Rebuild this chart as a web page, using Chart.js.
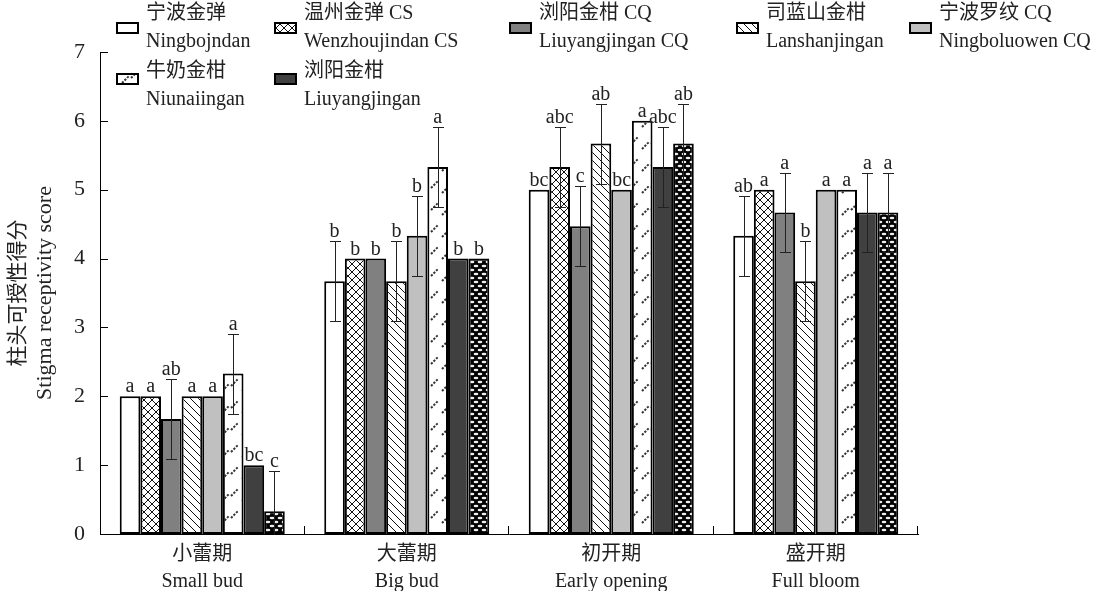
<!DOCTYPE html>
<html>
<head>
<meta charset="utf-8">
<script src="https://cdn.jsdelivr.net/npm/chart.js@4.4.1/dist/chart.umd.min.js"></script>
<style>
  html, body { margin: 0; padding: 0; background: #fff; }
  #wrap { width: 1106px; height: 591px; }
</style>
</head>
<body>
<div id="wrap"><canvas id="stigmaChart" width="1106" height="591"></canvas></div>
<script>
/* ── Stigma receptivity score by flowering stage ── */

const SERIF = "'Liberation Serif', 'Noto Sans CJK SC', serif";

// categories
const stageZh = ['小蕾期', '大蕾期', '初开期', '盛开期'];
const stageEn = ['Small bud', 'Big bud', 'Early opening', 'Full bloom'];

// series names (last bar has no legend entry in the figure)
const cultivarZh = ['宁波金弹', '温州金弹 CS', '浏阳金柑 CQ', '司蓝山金柑', '宁波罗纹 CQ', '牛奶金柑', '浏阳金柑', ''];
const cultivarEn = ['Ningbojndan', 'Wenzhoujindan CS', 'Liuyangjingan CQ', 'Lanshanjingan', 'Ningboluowen CQ', 'Niunaiingan', 'Liuyangjingan', ''];

// mean scores per cultivar, one value per stage
const scoreNingbo     = [2, 3.67, 5, 4.33];
const scoreWenzhou    = [2, 4, 5.33, 5];
const scoreLiuyangCQ  = [1.67, 4, 4.47, 4.67];
const scoreLanshan    = [2, 3.67, 5.67, 3.67];
const scoreLuowen     = [2, 4.33, 5, 5];
const scoreNiunai     = [2.33, 5.33, 6, 5];
const scoreLiuyang    = [1, 4, 5.33, 4.67];
const scoreEighth     = [0.33, 4, 5.67, 4.67];

// standard errors
const errNingbo    = [0, 0.58, 0, 0.58];
const errWenzhou   = [0, 0, 0.58, 0];
const errLiuyangCQ = [0.58, 0, 0.58, 0.58];
const errLanshan   = [0, 0.58, 0.58, 0.58];
const errLuowen    = [0, 0.58, 0, 0];
const errNiunai    = [0.58, 0.58, 0, 0];
const errLiuyang   = [0, 0, 0.58, 0.58];
const errEighth    = [0.58, 0, 0.58, 0.58];

// significance letters
const sigNingbo    = ['a', 'b', 'bc', 'ab'];
const sigWenzhou   = ['a', 'b', 'abc', 'a'];
const sigLiuyangCQ = ['ab', 'b', 'c', 'a'];
const sigLanshan   = ['a', 'b', 'ab', 'b'];
const sigLuowen    = ['a', 'b', 'bc', 'a'];
const sigNiunai    = ['a', 'a', 'a', 'a'];
const sigLiuyang   = ['bc', 'b', 'abc', 'a'];
const sigEighth    = ['c', 'b', 'ab', 'a'];

const yTicks = [0, 1, 2, 3, 4, 5, 6, 7];

/* ── fill patterns ── */
function tile(w, h, draw) {
  const c = document.createElement('canvas');
  c.width = w; c.height = h;
  const g = c.getContext('2d');
  draw(g, w, h);
  return g.createPattern(c, 'repeat');
}

const PAT_CROSS = tile(8, 8, (g, w, h) => {
  g.fillStyle = '#fff'; g.fillRect(0, 0, w, h);
  g.strokeStyle = '#111'; g.lineWidth = 1;
  g.beginPath();
  g.moveTo(-1, -1); g.lineTo(w + 1, h + 1);
  g.moveTo(-1, h + 1); g.lineTo(w + 1, -1);
  g.stroke();
});

const PAT_BACK = tile(8, 8, (g, w, h) => {
  g.fillStyle = '#fff'; g.fillRect(0, 0, w, h);
  g.strokeStyle = '#111'; g.lineWidth = 1;
  g.beginPath();
  g.moveTo(-1, -1); g.lineTo(w + 1, h + 1);
  g.moveTo(-1, h - 1); g.lineTo(1, h + 1);
  g.moveTo(w - 1, -1); g.lineTo(w + 1, 1);
  g.stroke();
});

const PAT_DASH = tile(20, 22, (g, w, h) => {
  g.fillStyle = '#fff'; g.fillRect(0, 0, w, h);
  g.strokeStyle = '#333'; g.lineWidth = 2;
  g.setLineDash([2.2, 1.4]);
  g.beginPath();
  g.moveTo(2, 17); g.lineTo(9, 10);
  g.moveTo(11, 12); g.lineTo(18, 5);
  g.stroke();
});

const PAT_DOTS = tile(8, 8, (g, w, h) => {
  g.fillStyle = '#000'; g.fillRect(0, 0, w, h);
  g.fillStyle = '#eee';
  [[4, 2], [0, 6], [8, 6]].forEach(([cx, cy]) => {
    g.beginPath(); g.ellipse(cx, cy, 2.4, 1.2, 0, 0, Math.PI * 2); g.fill();
  });
});

const seriesScores = [scoreNingbo, scoreWenzhou, scoreLiuyangCQ, scoreLanshan, scoreLuowen, scoreNiunai, scoreLiuyang, scoreEighth];
const seriesErrs = [errNingbo, errWenzhou, errLiuyangCQ, errLanshan, errLuowen, errNiunai, errLiuyang, errEighth];
const seriesSigs = [sigNingbo, sigWenzhou, sigLiuyangCQ, sigLanshan, sigLuowen, sigNiunai, sigLiuyang, sigEighth];
const seriesFill = ['#ffffff', PAT_CROSS, '#808080', PAT_BACK, '#c0c0c0', PAT_DASH, '#404040', PAT_DOTS];

// legend slots: series index, swatch x, row
const LEGEND_SLOTS = [
  { i: 0, x: 117, row: 0 }, { i: 1, x: 275, row: 0 }, { i: 2, x: 510, row: 0 },
  { i: 3, x: 737, row: 0 }, { i: 4, x: 910, row: 0 },
  { i: 5, x: 117, row: 1 }, { i: 6, x: 275, row: 1 },
];

const decorPlugin = {
  id: 'decor',
  afterDatasetsDraw(chart) {
    const { ctx, scales: { y }, chartArea } = chart;
    ctx.save();

    // error bars
    ctx.strokeStyle = '#222';
    ctx.lineWidth = 1;
    seriesErrs.forEach((errs, di) => {
      const meta = chart.getDatasetMeta(di);
      errs.forEach((e, j) => {
        if (!e) return;
        const v = seriesScores[di][j];
        const cx = Math.round(meta.data[j].x) + 0.5;
        const top = Math.round(y.getPixelForValue(v + e)) + 0.5;
        const lo = Math.max(0, v - e);
        const bot = Math.round(y.getPixelForValue(lo)) + 0.5;
        ctx.beginPath();
        ctx.moveTo(cx, top); ctx.lineTo(cx, bot);
        ctx.moveTo(cx - 5.5, top); ctx.lineTo(cx + 5.5, top);
        if (lo > 0) { ctx.moveTo(cx - 5.5, bot); ctx.lineTo(cx + 5.5, bot); }
        ctx.stroke();
      });
    });

    // significance letters
    ctx.fillStyle = '#222';
    ctx.font = `20px ${SERIF}`;
    ctx.textAlign = 'center';
    ctx.textBaseline = 'alphabetic';
    seriesSigs.forEach((sigs, di) => {
      const meta = chart.getDatasetMeta(di);
      sigs.forEach((s, j) => {
        const topVal = seriesScores[di][j] + seriesErrs[di][j];
        ctx.fillText(s, meta.data[j].x, y.getPixelForValue(topVal) - 4);
      });
    });

    // inward tick marks
    ctx.strokeStyle = '#000';
    ctx.beginPath();
    yTicks.forEach(t => {
      const py = Math.round(y.getPixelForValue(t)) + 0.5;
      ctx.moveTo(chartArea.left, py); ctx.lineTo(chartArea.left + 8, py);
    });
    const gw = (chartArea.right - chartArea.left) / stageZh.length;
    for (let k = 1; k <= stageZh.length; k++) {
      const px = Math.round(chartArea.left + k * gw) - 0.5;
      ctx.moveTo(px, chartArea.bottom); ctx.lineTo(px, chartArea.bottom - 8);
    }
    ctx.stroke();
    ctx.restore();
  },
  afterDraw(chart) {
    const { ctx, chartArea } = chart;
    ctx.save();
    ctx.fillStyle = '#222';

    // y axis title, two lines
    const cy = (chartArea.top + chartArea.bottom) / 2;
    ctx.translate(18, cy);
    ctx.rotate(-Math.PI / 2);
    ctx.textAlign = 'center';
    ctx.textBaseline = 'middle';
    ctx.font = `21px ${SERIF}`;
    ctx.fillText('柱头可授性得分', 0, 0);
    ctx.font = `22px ${SERIF}`;
    ctx.fillText('Stigma receptivity score', 0, 27);
    ctx.setTransform(1, 0, 0, 1, 0, 0);

    // legend
    LEGEND_SLOTS.forEach(({ i, x, row }) => {
      const base = row * 58;
      const sy = row ? 74 : 23;
      ctx.fillStyle = seriesFill[i];
      ctx.fillRect(x, sy, 21, 10);
      ctx.strokeStyle = '#000';
      ctx.lineWidth = 2;
      ctx.strokeRect(x, sy, 21, 10);
      ctx.fillStyle = '#222';
      ctx.textAlign = 'left';
      ctx.textBaseline = 'middle';
      ctx.font = `20px ${SERIF}`;
      ctx.fillText(cultivarZh[i], x + 29, base + 14);
      ctx.textBaseline = 'alphabetic';
      ctx.fillText(cultivarEn[i], x + 29, base + 47);
    });
    ctx.restore();
  },
};

new Chart(document.getElementById('stigmaChart'), {
  type: 'bar',
  data: {
    labels: stageZh.map((z, k) => [z, stageEn[k]]),
    datasets: seriesScores.map((vals, di) => ({
      label: cultivarZh[di] || 'series ' + (di + 1),
      data: vals,
      backgroundColor: seriesFill[di],
      borderColor: '#000',
      borderWidth: 2,
      borderSkipped: false,
      categoryPercentage: 0.807,
      barPercentage: 1,
    })),
  },
  options: {
    responsive: false,
    animation: false,
    layout: { padding: { top: 52, right: 188, bottom: 0, left: 0 } },
    plugins: { legend: { display: false }, tooltip: { enabled: false } },
    scales: {
      x: {
        grid: { display: false, drawTicks: false },
        border: { display: true, color: '#000', width: 1 },
        ticks: { color: '#222', font: { family: SERIF, size: 20, lineHeight: 1.35 }, padding: 7, maxRotation: 0 },
        afterFit: s => { s.height = 57; },
      },
      y: {
        min: 0, max: 7,
        grid: { display: false, drawTicks: false },
        border: { display: true, color: '#000', width: 1 },
        ticks: { stepSize: 1, color: '#222', font: { family: SERIF, size: 22 }, padding: 15 },
        afterFit: s => { s.width = 100; },
      },
    },
  },
  plugins: [decorPlugin],
});
</script>
</body>
</html>
